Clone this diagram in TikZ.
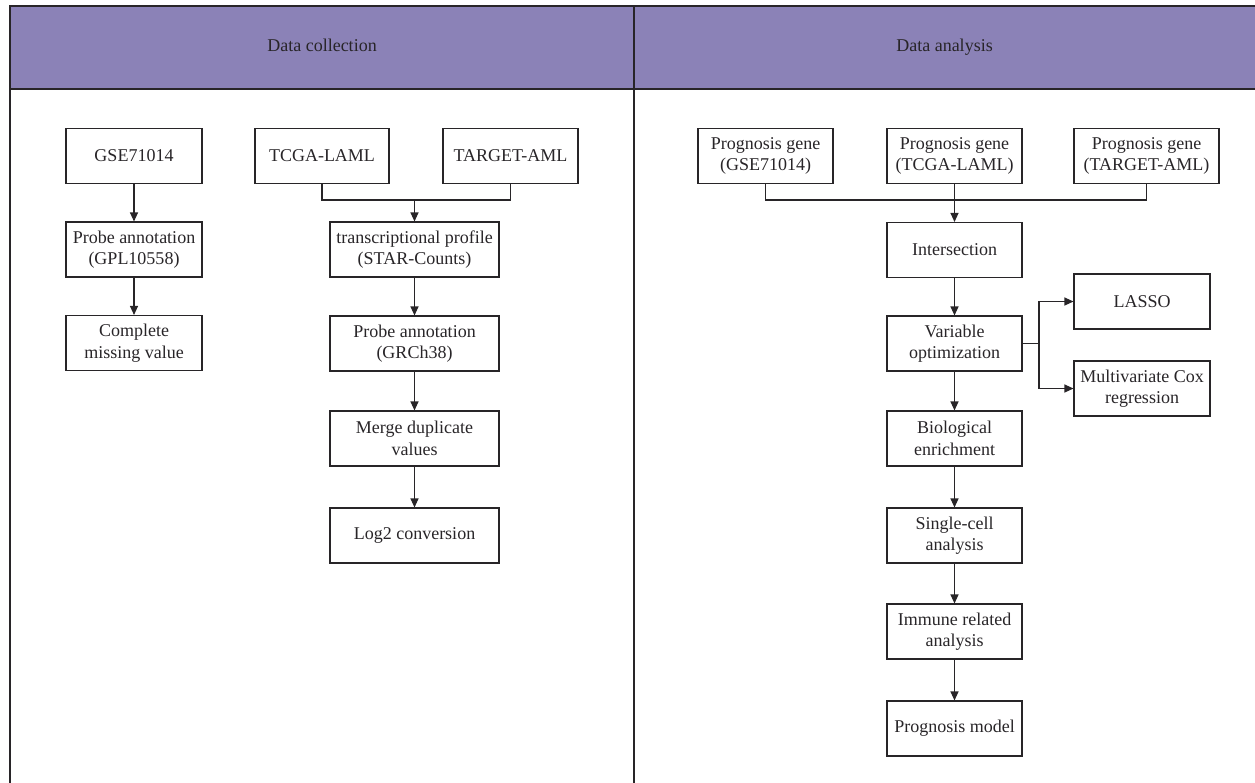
\documentclass[tikz,border=0pt]{standalone}
\usepackage{fontspec}
\setmainfont{Liberation Serif}
\usetikzlibrary{arrows.meta}
\definecolor{headpurple}{RGB}{139,130,183}
\definecolor{inkgray}{RGB}{40,37,40}
\tikzset{
  stepbox/.style={draw=inkgray, line width=1.1pt, align=center, inner sep=0pt,
    minimum height=55pt, text=inkgray, font=\fontsize{18}{21.5}\selectfont},
  headtext/.style={text=inkgray, font=\fontsize{18}{21.5}\selectfont,
    text height=12.5pt, text depth=4pt},
  link/.style={draw=inkgray, line width=1.1pt},
}
\begin{document}
\begin{tikzpicture}[x=1pt, y=-1pt, >={Triangle[length=9pt,width=8pt]}]
        \useasboundingbox (0,0) rectangle (1255,782);
        % header band and frame
        \fill[headpurple] (10,6) rectangle (1260,89);
        \draw[link] (1260,6) -- (10,6) -- (10,790);
        \draw[link] (10,89) -- (1260,89);
        \draw[link] (634,6) -- (634,790);
        \node[headtext] (hcol) at (322,47.5) {Data collection};
        \node[headtext] (hana) at (944.5,47.5) {Data analysis};

        % data collection
        \node[stepbox, minimum width=136pt] (gse) at (134,156) {GSE71014};
        \node[stepbox, minimum width=136pt] (gpl) at (134,249.5) {Probe annotation\\(GPL10558)};
        \node[stepbox, minimum width=136pt] (miss) at (134,343) {Complete\\missing value};
        \node[stepbox, minimum width=134pt] (tcga) at (322,156) {TCGA-LAML};
        \node[stepbox, minimum width=135pt] (target) at (510.5,156) {TARGET-AML};
        \node[stepbox, minimum width=169pt] (trans) at (414.5,249.5) {transcriptional profile\\(STAR-Counts)};
        \node[stepbox, minimum width=169pt] (grch) at (414.5,343.5) {Probe annotation\\(GRCh38)};
        \node[stepbox, minimum width=169pt] (merge) at (414.5,438.5) {Merge duplicate\\values};
        \node[stepbox, minimum width=169pt] (log) at (414.5,535.5) {Log2 conversion};
        \coordinate (jl) at (414.5,200);
        \draw[link,->] (gse) -- (gpl);
        \draw[link,->] (gpl) -- (miss);
        \draw[link] (tcga.south) |- (jl) -| (target.south);
        \draw[link,->] (jl) -- (trans);
        \draw[link,->] (trans) -- (grch);
        \draw[link,->] (grch) -- (merge);
        \draw[link,->] (merge) -- (log);

        % data analysis
        \node[stepbox, minimum width=135pt] (pgse) at (765.5,156) {Prognosis gene\\(GSE71014)};
        \node[stepbox, minimum width=135pt] (ptcga) at (954.5,156) {Prognosis gene\\(TCGA-LAML)};
        \node[stepbox, minimum width=145pt] (ptarget) at (1146.5,156) {Prognosis gene\\(TARGET-AML)};
        \node[stepbox, minimum width=135pt] (inter) at (954.5,250) {Intersection};
        \node[stepbox, minimum width=135pt] (vopt) at (954.5,343.5) {Variable\\optimization};
        \node[stepbox, minimum width=136pt] (lasso) at (1142,301.5) {LASSO};
        \node[stepbox, minimum width=136pt] (cox) at (1142,388.5) {Multivariate Cox\\regression};
        \node[stepbox, minimum width=135pt] (bio) at (954.5,438.5) {Biological\\enrichment};
        \node[stepbox, minimum width=135pt] (cell) at (954.5,535.5) {Single-cell\\analysis};
        \node[stepbox, minimum width=135pt] (imm) at (954.5,631.5) {Immune related\\analysis};
        \node[stepbox, minimum width=135pt] (model) at (954.5,728.5) {Prognosis model};
        \coordinate (jr) at (954.5,200);
        \coordinate (br) at (1039,343.5);
        \draw[link] (pgse.south) |- (jr) -| (ptarget.south);
        \draw[link,->] (ptcga) -- (inter);
        \draw[link,->] (inter) -- (vopt);
        \draw[link] (vopt) -- (br);
        \draw[link,->] (br) |- (lasso);
        \draw[link,->] (br) |- (cox);
        \draw[link,->] (vopt) -- (bio);
        \draw[link,->] (bio) -- (cell);
        \draw[link,->] (cell) -- (imm);
        \draw[link,->] (imm) -- (model);
    \end{tikzpicture}
\end{document}
